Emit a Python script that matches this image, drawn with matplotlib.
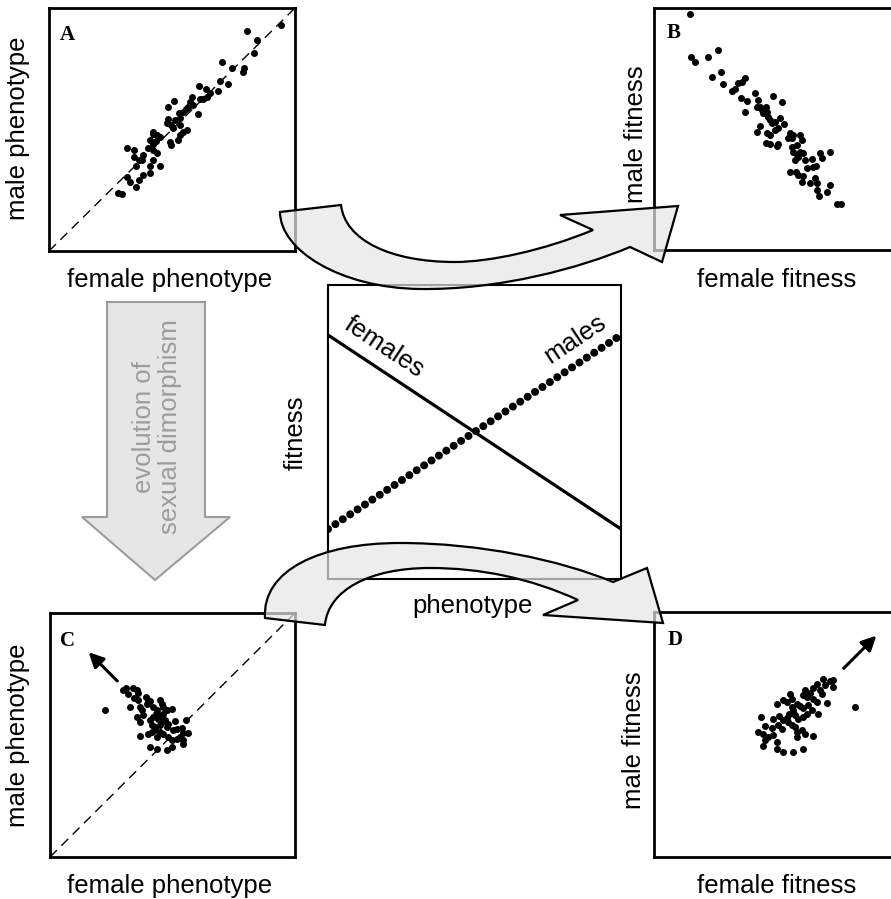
import matplotlib
matplotlib.use("Agg")
import matplotlib.pyplot as plt
import numpy as np
from matplotlib.path import Path
from matplotlib.patches import PathPatch, Polygon

plt.rcParams.update({
	"font.family": ["Liberation Sans", "DejaVu Sans"],
})
font_size = 18.5

# ---- data (panel units) ----
# A: male vs female phenotype, before dimorphism
a_female = [231.7, 197.7, 207.7, 205, 173.3, 182.7, 195, 193.7, 171, 178.7, 150.3, 157, 169.3, 161,
	158.3, 154.3, 151, 142.7, 141, 139.3, 137, 134.3, 130.3, 125, 119.3, 149.3, 144.3, 131, 126,
	119.3, 117.7, 121.7, 123.7, 131, 138.3, 134.3, 131, 128.7, 121, 122, 104.3, 103.7, 108.3, 111,
	107, 104.3, 101, 99.3, 104.3, 107.7, 93.7, 90.3, 87, 77.7, 85, 85, 92.7, 104.3, 101, 111, 101,
	94.3, 90.3, 87, 77.7, 81, 69.3, 72.7]
a_male = [226, 220, 211, 197.7, 189.3, 183.3, 182.7, 179.3, 170.3, 166.7, 165.3, 161.7, 160.3, 157.7,
	153.7, 151.7, 151.7, 153.7, 149.3, 144.3, 141.7, 139.3, 138.3, 150.3, 144.3, 137, 146, 132.7, 131,
	131.7, 127.7, 126, 122.7, 126, 121, 119.3, 116, 111, 109.3, 106, 119.3, 117, 116, 113.7,
	110.3, 107, 111, 102.7, 101, 97.7, 96, 91, 85, 102.7, 101, 94.3, 91, 91, 85, 85, 77.7,
	76, 71, 64.3, 74.3, 69.3, 58.3, 57]

# B: male vs female fitness, before dimorphism
b_female = [36, 36.7, 41, 53.7, 64.3, 57.7, 66.7, 68.7, 77.7, 81, 84.3, 87.7, 91, 86.7, 93.3, 101,
	104.3, 106, 102.7, 107.7, 112, 112.7, 109.3, 91, 119.3, 127.7, 114.3, 117.7, 116, 121, 126, 130,
	106, 103.3, 112.7, 116, 121, 124.3, 112, 116, 122.7, 124.3, 136, 139.3, 146, 147.7, 142.7, 137.7,
	134.3, 137.7, 139.3, 142.7, 146, 149.3, 144.3, 141, 151, 157.7, 159.3, 162, 166, 176, 167.7,
	152.7, 142, 136, 144.3, 149.3, 147.7, 156, 161, 162.7, 163.3, 176, 173.3, 165.3, 182.7, 186.7]
b_male = [236, 193.3, 188.3, 192.7, 200, 173.3, 177.7, 166, 159, 160.7, 167.3, 168.3, 171.7, 151.7,
	149, 157.3, 150, 142.7, 142.7, 140, 142.7, 138.3, 136.7, 138.3, 154, 148.3, 133.3, 126.7, 130,
	128.3, 131.7, 126, 124, 118.3, 116.7, 115, 120, 121.7, 107.3, 106, 104, 106, 116.7, 115, 115,
	110, 105, 111.7, 111.7, 103.3, 98.3, 95, 98.3, 96.7, 93.3, 90, 90, 90.7, 83.3, 84, 97.3, 98.3,
	91.7, 81.7, 78.3, 77.7, 75, 74, 68.3, 66.7, 71.7, 66.7, 60, 65, 57.7, 54, 45.7, 46]

# C: male vs female phenotype, after dimorphism
c_female = [55, 73.3, 76, 78.3, 83.3, 86.7, 88.3, 80, 84, 88.3, 90, 86.7, 96, 98.3, 96.7, 100, 91.7,
	93.3, 90, 103.3, 106.7, 110, 111.7, 113.3, 100, 103.3, 106, 108.3, 110.7, 113.3, 116.7, 121.7,
	101.7, 105, 110, 111.7, 115, 118.3, 116.7, 125, 135.7, 90, 98.3, 101.7, 106.7, 105, 110, 113.3,
	118.3, 123.3, 126.7, 131.7, 133.3, 138.3, 121.7, 126.7, 130, 133.3, 132.7, 100, 106.7, 116.7, 121.7]
c_male = [146.7, 166.7, 169.3, 163.3, 169.3, 166.7, 164, 150, 159.3, 156.7, 150, 140, 160, 157.3,
	153.3, 156, 146.7, 141.7, 135, 150, 146.7, 156.7, 153.3, 150, 136.7, 140, 143.3, 138.3, 141.7,
	143.3, 146.7, 148.3, 131.7, 130, 131.7, 135, 136.7, 133.3, 130, 136, 137.3, 120.7, 123.3, 125,
	120, 126.7, 125, 123.3, 120, 126.7, 128.3, 129.3, 124, 124, 116.7, 118.3, 120, 117.3, 112.7,
	110, 108.3, 107.3, 110]

# D: male vs female fitness, after dimorphism
d_female = [201, 168.7, 176, 179.3, 178.7, 171, 162.7, 159.3, 166, 167.7, 156, 151, 149.3, 152.7,
	159.3, 162.7, 172.7, 164.3, 136, 137.7, 132.7, 129.3, 122.7, 142.7, 146, 149.3, 154.3, 157.7,
	152.7, 137.7, 139.3, 135.3, 132.7, 129.3, 141, 144.3, 149.3, 107, 119.3, 125.3, 111, 117.7,
	124.3, 127.7, 134.3, 137.7, 141, 142.7, 147.7, 151, 142.7, 159.3, 104.3, 109.3, 114.3, 111,
	119.3, 109.3, 122.7, 122.7, 128.7, 139.3, 149.3]
d_male = [150, 177.7, 175.7, 176.7, 170, 171.7, 173.3, 169.3, 166.7, 163.3, 164, 166.7, 161.7, 160,
	158.3, 155, 154, 143.3, 162.7, 158.3, 155, 156.7, 152.7, 153.3, 150.7, 149.3, 151.7, 146.7,
	143.3, 150, 146.7, 143.3, 139.3, 136.7, 141.7, 138.3, 140, 140, 138.3, 140.7, 130.7, 129.3,
	131.7, 128.3, 135, 131.7, 130, 125, 126.7, 123.3, 120, 120.7, 125, 122.7, 120, 116.7,
	121.7, 110.7, 115, 108.3, 105, 105, 108.3]

# centre panel: fitness against phenotype
phenotype = [0, 1]
fitness_females = [0.83, 0.17]
fitness_males = [0.17, 0.83]

W, H = 891, 899
fig = plt.figure(figsize=(W / 100, H / 100), dpi=100)

def add_panel(l, t, w, h):
	return fig.add_axes([l / W, 1 - (t + h) / H, w / W, h / H])

def style(ax, lw=2.0):
	ax.set_xticks([])
	ax.set_yticks([])
	for s in ax.spines.values():
		s.set_linewidth(lw)

# A
ax_a = add_panel(49, 8, 246, 243)
ax_a.set_xlim(0, 246)
ax_a.set_ylim(0, 243)
ax_a.plot([0, 1], [0, 1], transform=ax_a.transAxes, color="black", lw=1.0, ls=(0, (7, 4.5)))
ax_a.scatter(a_female, a_male, s=16, color="black", zorder=3)
style(ax_a)

# B
ax_b = add_panel(654, 8, 245, 242)
ax_b.set_xlim(0, 245)
ax_b.set_ylim(0, 242)
ax_b.scatter(b_female, b_male, s=16, color="black", zorder=3)
style(ax_b)

# C
ax_c = add_panel(50, 613, 245, 244)
ax_c.set_xlim(0, 245)
ax_c.set_ylim(0, 244)
ax_c.plot([0, 1], [0, 1], transform=ax_c.transAxes, color="black", lw=1.0, ls=(0, (7, 4.5)))
ax_c.scatter(c_female, c_male, s=16, color="black", zorder=3)
ax_c.annotate("", xy=(36.7, 206.7), xytext=(69.3, 174),
	arrowprops=dict(arrowstyle="-|>", color="black", lw=2.2, mutation_scale=22))
style(ax_c)

# D
ax_d = add_panel(654, 612, 245, 245)
ax_d.set_xlim(0, 245)
ax_d.set_ylim(0, 245)
ax_d.scatter(d_female, d_male, s=16, color="black", zorder=3)
ax_d.annotate("", xy=(224.3, 223.3), xytext=(187.7, 186.7),
	arrowprops=dict(arrowstyle="-|>", color="black", lw=2.2, mutation_scale=22))
style(ax_d)

# centre
ax_m = add_panel(328, 285, 293, 294)
ax_m.set_xlim(0, 1)
ax_m.set_ylim(0, 1)
ax_m.plot(phenotype, fitness_females, color="black", lw=2.3, solid_capstyle="butt")
ax_m.plot(phenotype, fitness_males, color="black", lw=5.8, ls=(0, (0.001, 1.1)),
	dash_capstyle="round")
style(ax_m, lw=1.5)

# overlay in pixel coords for labels and big arrows
ov = fig.add_axes([0, 0, 1, 1], zorder=10)
ov.set_xlim(0, W)
ov.set_ylim(H, 0)
ov.axis("off")
ov.patch.set_alpha(0)

# grey down arrow
down = Polygon([(107, 302), (205, 302), (205, 517), (230, 517), (155, 580), (82, 517), (107, 517)],
	closed=True, facecolor="#e6e6e6", edgecolor="#9c9c9c", lw=1.5)
ov.add_patch(down)
ov.text(157, 427, "evolution of\nsexual dimorphism", rotation=90, ha="center", va="center",
	color="#9c9c9c", fontsize=font_size, linespacing=1.15)

# curved arrows
C4 = Path.CURVE4
L = Path.LINETO
top_verts = [(280, 212), (280, 250), (340, 288), (420, 289), (500, 290), (580, 268), (630, 247),
	(662, 262), (678, 206), (560, 215), (593, 230),
	(545, 250), (490, 262), (455, 262), (390, 262), (345, 240), (341, 205), (280, 212)]
bot_verts = [(265, 618), (262, 570), (320, 543), (400, 543), (480, 543), (560, 560), (613, 582),
	(647, 568), (663, 623), (543, 615), (578, 600),
	(530, 578), (480, 568), (430, 568), (370, 568), (328, 590), (325, 625), (265, 618)]
codes = [Path.MOVETO, C4, C4, C4, C4, C4, C4, L, L, L, L, C4, C4, C4, C4, C4, C4, Path.CLOSEPOLY]
for verts in (top_verts, bot_verts):
	ov.add_patch(PathPatch(Path(verts, codes), facecolor=(0.9, 0.9, 0.9, 0.7),
		edgecolor="black", lw=1.6, joinstyle="miter"))

# axis labels
ov.text(170, 280, "female phenotype", ha="center", va="center", fontsize=font_size)
ov.text(170, 886, "female phenotype", ha="center", va="center", fontsize=font_size)
ov.text(777, 280, "female fitness", ha="center", va="center", fontsize=font_size)
ov.text(777, 886, "female fitness", ha="center", va="center", fontsize=font_size)
ov.text(18, 128, "male phenotype", rotation=90, ha="center", va="center", fontsize=font_size)
ov.text(18, 735, "male phenotype", rotation=90, ha="center", va="center", fontsize=font_size)
ov.text(636, 134, "male fitness", rotation=90, ha="center", va="center", fontsize=font_size)
ov.text(634, 740, "male fitness", rotation=90, ha="center", va="center", fontsize=font_size)
ov.text(296, 433, "fitness", rotation=90, ha="center", va="center", fontsize=font_size)
ov.text(473, 606, "phenotype", ha="center", va="center", fontsize=font_size)
ov.text(384, 347, "females", rotation=-33.6, ha="center", va="center", fontsize=font_size)
ov.text(575, 339, "males", rotation=33.6, ha="center", va="center", fontsize=font_size)

# panel letters
for lab, x, y in (("A", 60, 35), ("B", 667, 33), ("C", 60, 641), ("D", 668, 640)):
	ov.text(x, y, lab, ha="left", va="center", fontsize=15, fontweight="bold",
		family=["Liberation Serif", "DejaVu Serif"])

plt.savefig("out.png", dpi=100)
plt.close()
